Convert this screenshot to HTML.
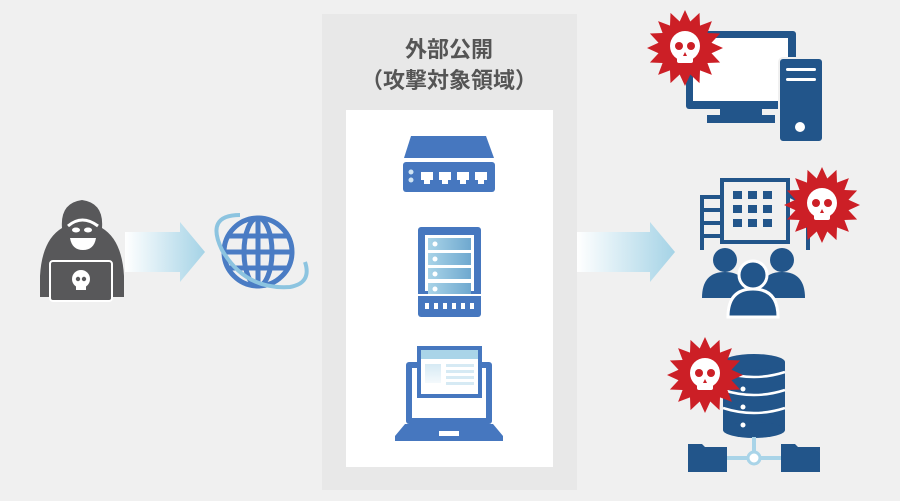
<!DOCTYPE html>
<html><head><meta charset="utf-8"><style>
html,body{margin:0;padding:0;background:#f0f0f0;}
svg{display:block;}
text{font-family:"Liberation Sans","Noto Sans CJK JP",sans-serif;font-weight:bold;fill:#555;}
</style></head><body>
<svg width="900" height="501" viewBox="0 0 900 501" xmlns="http://www.w3.org/2000/svg">
<defs>
<linearGradient id="ag" x1="0" x2="1" y1="0" y2="0"><stop offset="0" stop-color="#ffffff"/><stop offset="1" stop-color="#a5d3e6"/></linearGradient>
<linearGradient id="sg" x1="0" x2="1"><stop offset="0" stop-color="#a9d4e8"/><stop offset="1" stop-color="#6fa8cf"/></linearGradient>
<linearGradient id="lg" x1="0" x2="0" y1="0" y2="1"><stop offset="0" stop-color="#d6eaf4"/><stop offset="1" stop-color="#f4f9fc"/></linearGradient>
<symbol id="star" viewBox="-40 -40 80 80" overflow="visible">
<polygon fill="#cc1f26" points="38,0 26.5,5.3 35.1,14.5 22.4,15 26.9,26.9 15,22.4 14.5,35.1 5.3,26.5 0,38 -5.3,26.5 -14.5,35.1 -15,22.4 -26.9,26.9 -22.4,15 -35.1,14.5 -26.5,5.3 -38,0 -26.5,-5.3 -35.1,-14.5 -22.4,-15 -26.9,-26.9 -15,-22.4 -14.5,-35.1 -5.3,-26.5 0,-38 5.3,-26.5 14.5,-35.1 15,-22.4 26.9,-26.9 22.4,-15 35.1,-14.5 26.5,-5.3"/>
<circle cx="0" cy="-2" r="15" fill="#fff"/>
<rect x="-8" y="6" width="16" height="9" rx="2" fill="#fff"/>
<circle cx="-6" cy="-2" r="4" fill="#cc1f26"/><circle cx="6" cy="-2" r="4" fill="#cc1f26"/>
<polygon points="0,4 -2,8 2,8" fill="#cc1f26"/>
</symbol>
</defs>

<rect x="322" y="14" width="255" height="476" fill="#e8e8e8"/>
<rect x="346" y="110" width="207" height="357" fill="#fff"/>
<text x="449" y="57" font-size="22" text-anchor="middle">外部公開</text>
<text x="449" y="88" font-size="22" text-anchor="middle">（攻撃対象領域）</text>

<g fill="#58585a">
<path d="M40,276 Q42,240 62,228 Q60,203 82,200 Q104,203 102,228 Q122,240 124,276 L124,297 L40,297 Z"/>
</g>
<path d="M68,226 Q82,214 98,226" stroke="#fff" stroke-width="3" fill="none"/>
<ellipse cx="76" cy="230" rx="4" ry="2.5" fill="#fff"/><ellipse cx="88" cy="230" rx="4" ry="2.5" fill="#fff"/>
<path d="M70,238 L96,238 Q94,250 83,250 Q72,250 70,238 Z" fill="#fff"/>
<rect x="50" y="261" width="62" height="40" rx="3" fill="#58585a" stroke="#fff" stroke-width="2"/>
<circle cx="81" cy="279" r="9" fill="#fff"/><rect x="76" y="284" width="10" height="6" fill="#fff"/>
<circle cx="78" cy="279" r="2.2" fill="#58585a"/><circle cx="84" cy="279" r="2.2" fill="#58585a"/>

<polygon points="125,232 180,232 180,222 205,252 180,282 180,272 125,272" fill="url(#ag)"/>

<g stroke="#4a7cc4" stroke-width="5" fill="none">
<circle cx="258" cy="252" r="34"/>
<ellipse cx="258" cy="252" rx="14" ry="34"/>
<line x1="258" y1="218" x2="258" y2="286"/>
<line x1="224" y1="252" x2="292" y2="252"/>
<line x1="229" y1="236" x2="287" y2="236"/>
<line x1="229" y1="268" x2="287" y2="268"/>
</g>
<path d="M240,215 Q205,215 222,250 Q245,290 290,287 Q312,283 305,262" stroke="#8cc4e0" stroke-width="4" fill="none"/>

<polygon points="577,232 650,232 650,222 675,252 650,282 650,272 577,272" fill="url(#ag)"/>

<polygon points="411,136 486,136 494,158 404,158" fill="#4677bf"/>
<rect x="403" y="162" width="92" height="30" rx="3" fill="#4677bf"/>
<circle cx="411" cy="172" r="2.5" fill="#cfe3f2"/><circle cx="411" cy="180" r="2.5" fill="#cfe3f2"/>
<g fill="#fff">
<path d="M421,172h12v8h-3v4h-6v-4h-3z"/><path d="M439,172h12v8h-3v4h-6v-4h-3z"/><path d="M457,172h12v8h-3v4h-6v-4h-3z"/><path d="M475,172h12v8h-3v4h-6v-4h-3z"/>
</g>

<rect x="418" y="227" width="63" height="90" rx="3" fill="#4677bf"/>
<rect x="425" y="235" width="49" height="56" fill="#fff"/>
<g fill="url(#sg)"><rect x="428" y="238" width="43" height="12"/><rect x="428" y="253" width="43" height="12"/><rect x="428" y="268" width="43" height="11"/><rect x="428" y="283" width="43" height="11"/></g>
<g fill="#fff"><circle cx="435" cy="244" r="2.5"/><circle cx="435" cy="259" r="2.5"/><circle cx="435" cy="274" r="2.5"/><circle cx="435" cy="289" r="2.5"/></g>
<rect x="418" y="294" width="63" height="2" fill="#fff"/>
<g fill="#fff"><rect x="425" y="303" width="4" height="6"/><rect x="434" y="303" width="4" height="6"/><rect x="443" y="303" width="4" height="6"/><rect x="452" y="303" width="4" height="6"/><rect x="461" y="303" width="4" height="6"/><rect x="470" y="303" width="4" height="6"/></g>

<rect x="406" y="362" width="86" height="62" rx="3" fill="#4677bf"/>
<rect x="412" y="368" width="74" height="50" fill="#fff"/>
<polygon points="405,424 493,424 503,436 503,441 395,441 395,436" fill="#4677bf"/>
<rect x="439" y="431" width="20" height="5" fill="#fff"/>
<rect x="417" y="346" width="65" height="52" fill="#4677bf"/>
<rect x="421" y="350" width="57" height="44" fill="#fff"/>
<rect x="421" y="350" width="57" height="9" fill="#a9d4e8"/>
<rect x="425" y="364" width="16" height="19" fill="url(#lg)"/>
<g fill="#d6eaf4"><rect x="446" y="364" width="28" height="3"/><rect x="446" y="370" width="28" height="3"/><rect x="446" y="376" width="28" height="3"/><rect x="446" y="382" width="28" height="3"/></g>

<g fill="#22558a">
<rect x="686" y="31" width="110" height="78" rx="3"/>
<rect x="720" y="108" width="42" height="8"/>
<rect x="707" y="115" width="68" height="8"/>
</g>
<rect x="693" y="38" width="95" height="63" fill="#fff"/>
<rect x="779" y="58" width="44" height="84" rx="4" fill="#22558a" stroke="#f0f0f0" stroke-width="2"/>
<rect x="786" y="68" width="30" height="3" rx="1.5" fill="#fff"/><rect x="786" y="78" width="30" height="3" rx="1.5" fill="#fff"/>
<circle cx="800" cy="127" r="5" fill="#fff"/>
<use href="#star" x="645" y="8" width="80" height="80"/>

<g fill="none" stroke="#22558a" stroke-width="4">
<rect x="722" y="180" width="66" height="62"/>
<path d="M722,197 L702,197 L702,250"/>
<path d="M702,210h20M702,223h20M702,236h20"/>
<path d="M788,195 L808,205 L808,250"/>
</g>
<g fill="#22558a">
<rect x="733" y="191" width="9" height="8"/><rect x="748" y="191" width="9" height="8"/><rect x="763" y="191" width="9" height="8"/>
<rect x="733" y="205" width="9" height="8"/><rect x="748" y="205" width="9" height="8"/><rect x="763" y="205" width="9" height="8"/>
<rect x="733" y="219" width="9" height="8"/><rect x="748" y="219" width="9" height="8"/><rect x="763" y="219" width="9" height="8"/>
<circle cx="725" cy="260" r="12"/><path d="M702,298 Q702,272 725,272 Q748,272 748,298 Z"/>
<circle cx="782" cy="260" r="12"/><path d="M759,298 Q759,272 782,272 Q805,272 805,298 Z"/>
</g>
<circle cx="753" cy="275" r="14" fill="#22558a" stroke="#fff" stroke-width="3"/>
<path d="M728,317 Q728,289 753,289 Q778,289 778,317 Z" fill="#22558a" stroke="#fff" stroke-width="3"/>
<use href="#star" x="782" y="165" width="80" height="80"/>

<g fill="#22558a">
<rect x="723" y="362" width="62" height="68"/>
<ellipse cx="754" cy="362" rx="31" ry="8"/>
<ellipse cx="754" cy="430" rx="31" ry="8"/>
</g>
<g stroke="#fff" stroke-width="2.5" fill="none">
<path d="M723,372 Q754,382 785,372"/><path d="M723,390 Q754,400 785,390"/><path d="M723,408 Q754,418 785,408"/>
</g>
<g fill="#fff"><circle cx="743" cy="389" r="2.5"/><circle cx="743" cy="407" r="2.5"/><circle cx="743" cy="425" r="2.5"/></g>
<g stroke="#a9d4e8" stroke-width="4"><line x1="754" y1="437" x2="754" y2="456"/><line x1="725" y1="458" x2="783" y2="458"/></g>
<circle cx="754" cy="458" r="6" fill="#fff" stroke="#a9d4e8" stroke-width="3"/>
<g fill="#22558a">
<path d="M688,444h14l3,3h22v25h-39z"/>
<path d="M781,444h14l3,3h22v25h-39z"/>
</g>
<use href="#star" x="665" y="335" width="80" height="80"/>
</svg>
</body></html>
